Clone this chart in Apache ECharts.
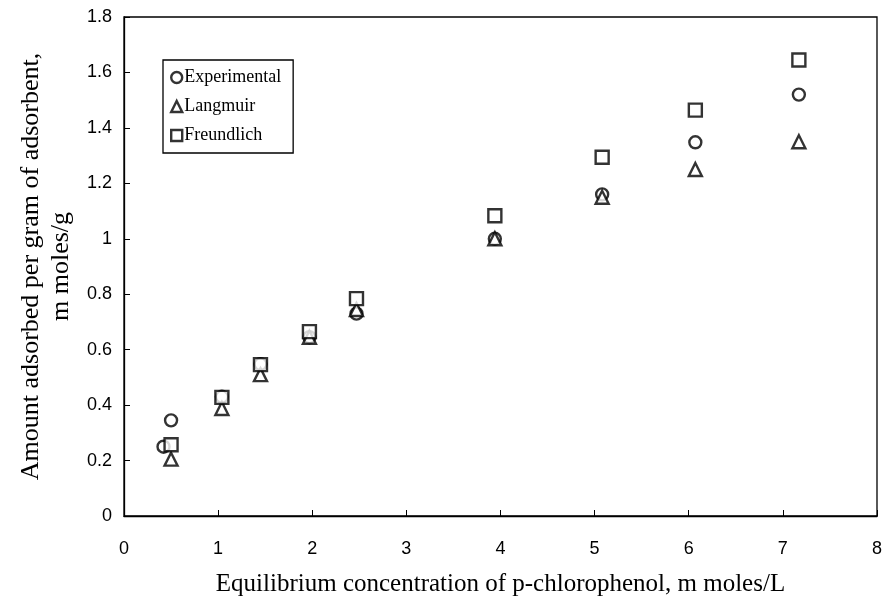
<!DOCTYPE html>
<html>
<head>
<meta charset="utf-8">
<script src="https://cdn.jsdelivr.net/npm/echarts@6/dist/echarts.min.js"></script>
<style>html,body{margin:0;padding:0;background:#fff}#c{width:885px;height:614px}</style>
</head>
<body>
<div id="c"></div>
<script>
var xTicks = [0, 1, 2, 3, 4, 5, 6, 7, 8];
var yTicks = [0, 0.2, 0.4, 0.6, 0.8, 1, 1.2, 1.4, 1.6, 1.8];

var expX = [0.42, 0.50, 1.04, 1.45, 1.97, 2.47, 3.94, 5.08, 6.07, 7.17];
var expY = [0.25, 0.345, 0.43, 0.548, 0.645, 0.73, 1.0, 1.16, 1.348, 1.52];

var langX = [0.50, 1.04, 1.45, 1.97, 2.47, 3.94, 5.08, 6.07, 7.17];
var langY = [0.205, 0.388, 0.51, 0.645, 0.745, 1.0, 1.15, 1.25, 1.35];

var freX = [0.50, 1.04, 1.45, 1.97, 2.47, 3.94, 5.08, 6.07, 7.17];
var freY = [0.257, 0.428, 0.546, 0.665, 0.784, 1.083, 1.294, 1.464, 1.645];

function pairs(xs, ys) { return xs.map(function (x, i) { return [x, ys[i]]; }); }

var serif = '"Liberation Serif", "Times New Roman", serif';
var sans = '"Liberation Sans", Arial, sans-serif';
var markerStyle = { color: '#fff', borderColor: '#000', borderWidth: 2.4 };

var chart = echarts.init(document.getElementById('c'));
chart.setOption({
  animation: false,
  backgroundColor: '#fff',
  grid: { left: 124, right: 8, top: 17, bottom: 98, show: true, borderColor: '#000', borderWidth: 1.3 },
  legend: {
    orient: 'vertical', left: 163, top: 60,
    borderColor: '#000', borderWidth: 1.3, padding: [8, 12, 8, 7],
    itemWidth: 11, itemHeight: 11, itemGap: 10,
    textStyle: { fontFamily: serif, fontSize: 18, lineHeight: 19, color: '#000', padding: [0, 0, 0, -3] },
    data: [
      { name: 'Experimental', icon: 'circle', itemStyle: markerStyle },
      { name: 'Langmuir', icon: 'triangle', itemStyle: markerStyle },
      { name: 'Freundlich', icon: 'rect', itemStyle: markerStyle }
    ]
  },
  xAxis: {
    type: 'value', min: xTicks[0], max: xTicks[xTicks.length - 1], interval: 1,
    name: 'Equilibrium concentration of p-chlorophenol, m moles/L',
    nameLocation: 'middle', nameGap: 56,
    nameTextStyle: { fontFamily: serif, fontSize: 25, color: '#000' },
    axisLine: { lineStyle: { color: '#000', width: 1.3 } },
    axisTick: { inside: true, length: 6, lineStyle: { color: '#000' } },
    axisLabel: { margin: 24, fontFamily: sans, fontSize: 18, color: '#000' },
    splitLine: { show: false }
  },
  yAxis: {
    type: 'value', min: yTicks[0], max: yTicks[yTicks.length - 1], interval: 0.2,
    name: 'Amount adsorbed per gram of adsorbent,\nm moles/g',
    nameLocation: 'middle', nameGap: 48,
    nameTextStyle: { fontFamily: serif, fontSize: 26, color: '#000', lineHeight: 30, align: 'center' },
    axisLine: { lineStyle: { color: '#000', width: 1.3 } },
    axisTick: { inside: true, length: 6, lineStyle: { color: '#000' } },
    axisLabel: { margin: 12, fontFamily: sans, fontSize: 18, color: '#000',
      formatter: function (v) { return String(Math.round(v * 10) / 10); } },
    splitLine: { show: false }
  },
  series: [
    { name: 'Experimental', type: 'scatter', symbol: 'circle', symbolSize: 12, z: 2,
      itemStyle: markerStyle, data: pairs(expX, expY) },
    { name: 'Langmuir', type: 'scatter', symbol: 'triangle', symbolSize: 13, z: 3,
      itemStyle: markerStyle, data: pairs(langX, langY) },
    { name: 'Freundlich', type: 'scatter', symbol: 'rect', symbolSize: 13, z: 4,
      itemStyle: markerStyle, data: pairs(freX, freY) }
  ]
});
</script>
</body>
</html>
